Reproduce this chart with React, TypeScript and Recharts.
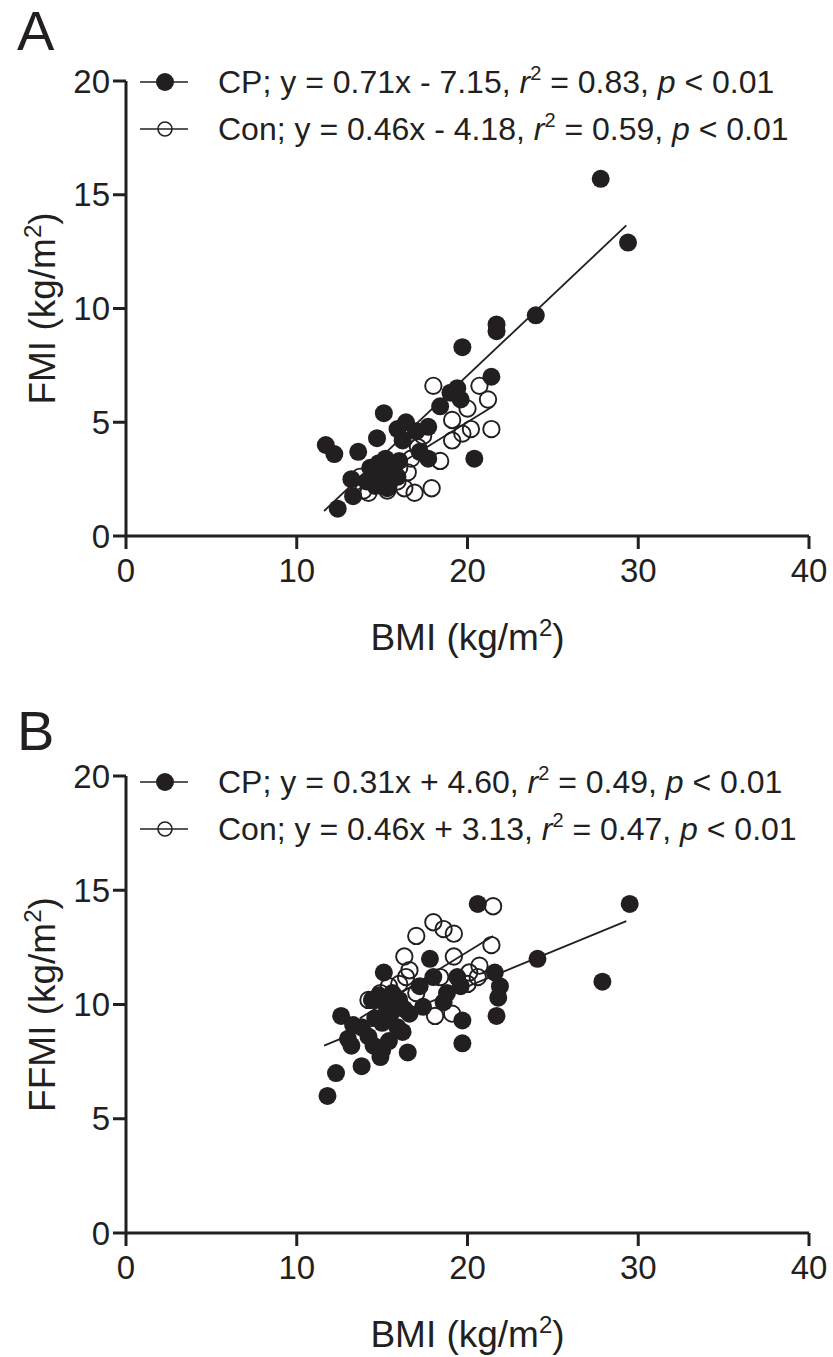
import React from "react";
import { Legend, ReferenceLine, Scatter, ScatterChart, XAxis, YAxis } from "recharts";

const ink = "#231f20";
const bodyFont = "'Liberation Sans', Arial, sans-serif";
const tickFont = "'Liberation Sans Narrow', 'Liberation Sans', Arial, sans-serif";

const bmiTicks = [0, 10, 20, 30, 40];
const indexTicks = [0, 5, 10, 15, 20];

// panel A: BMI vs FMI
const cpFmi: [number, number][] = [
  [11.7, 4.0], [12.2, 3.6], [12.4, 1.2], [13.2, 2.5], [13.3, 1.75], [13.6, 3.7], [14.7, 4.3], [15.1, 5.4],
  [14.3, 3.0], [14.5, 2.6], [14.8, 3.2], [15.0, 2.8], [15.2, 3.4], [15.5, 2.5], [15.7, 3.0], [16.0, 3.3],
  [14.6, 2.2], [15.3, 2.1], [15.9, 2.6], [14.1, 2.4], [15.9, 4.7], [16.2, 4.2], [16.4, 5.0], [17.2, 3.7],
  [17.7, 3.4], [17.7, 4.8], [17.0, 4.6], [18.4, 5.7], [19.0, 6.3], [19.4, 6.5], [19.6, 6.0], [19.7, 8.3],
  [20.4, 3.4], [21.4, 7.0], [21.7, 9.3], [21.7, 9.0], [24.0, 9.7], [27.8, 15.7], [29.4, 12.9]
];
const conFmi: [number, number][] = [
  [13.7, 2.6], [13.9, 2.0], [14.2, 1.9], [14.8, 2.4], [15.3, 2.0], [15.6, 2.9], [15.9, 2.4], [16.0, 3.0],
  [16.3, 2.1], [16.5, 2.8], [16.7, 3.4], [16.9, 1.9], [17.1, 3.9], [17.4, 4.4], [17.9, 2.1], [18.0, 6.6],
  [18.4, 3.3], [19.1, 4.2], [19.1, 5.1], [19.7, 4.5], [20.0, 5.6], [20.2, 4.7], [20.7, 6.6], [21.2, 6.0],
  [21.4, 4.7]
];
const cpFmiFit: [number, number][] = [[11.6, 1.1], [29.3, 13.65]];
const conFmiFit: [number, number][] = [[13.5, 2.0], [21.5, 5.7]];

// panel B: BMI vs FFMI
const cpFfmi: [number, number][] = [
  [11.8, 6.0], [12.3, 7.0], [13.8, 7.3], [12.6, 9.5], [13.3, 9.1], [13.2, 8.2], [13.0, 8.5], [13.8, 9.0],
  [14.2, 8.6], [14.5, 8.2], [14.9, 7.7], [15.0, 8.0], [15.4, 8.4], [14.4, 10.2], [14.8, 10.4], [15.2, 10.0],
  [15.6, 10.5], [16.0, 10.2], [16.3, 9.8], [14.6, 9.4], [15.0, 9.2], [15.5, 9.6], [15.9, 9.0], [16.2, 8.8],
  [16.6, 9.6], [15.1, 11.4], [16.5, 7.9], [17.2, 10.8], [17.4, 9.9], [17.8, 12.0], [18.0, 11.2], [18.6, 10.1],
  [18.8, 10.5], [19.4, 11.2], [19.6, 10.8], [19.7, 9.3], [19.7, 8.3], [20.6, 14.4], [21.6, 11.4], [21.7, 9.5],
  [21.8, 10.3], [21.9, 10.8], [24.1, 12.0], [27.9, 11.0], [29.5, 14.4]
];
const conFfmi: [number, number][] = [
  [14.2, 10.2], [14.9, 10.5], [15.0, 9.8], [15.4, 10.8], [15.8, 10.3], [16.0, 10.9], [16.3, 12.1], [16.4, 11.2],
  [16.6, 11.5], [17.0, 13.0], [17.0, 10.5], [18.0, 13.6], [18.1, 9.5], [18.4, 11.2], [18.6, 13.3], [19.1, 9.6],
  [19.2, 13.1], [19.2, 12.1], [20.0, 10.9], [20.1, 11.4], [20.6, 11.2], [20.7, 11.7], [21.4, 12.6], [21.5, 14.3]
];
const cpFfmiFit: [number, number][] = [[11.6, 8.2], [29.3, 13.65]];
const conFfmiFit: [number, number][] = [[13.7, 9.4], [21.5, 13.0]];

// legend rows: [group, equation, r2]
const fmiLegend = [
  ["CP", "y = 0.71x - 7.15", "0.83"],
  ["Con", "y = 0.46x - 4.18", "0.59"]
];
const ffmiLegend = [
  ["CP", "y = 0.31x + 4.60", "0.49"],
  ["Con", "y = 0.46x + 3.13", "0.47"]
];

const toPoints = (rows: [number, number][]) => rows.map(([x, y]) => ({ x, y }));

function FilledDot(props: any) {
  if (props.cx == null || props.cy == null) return null;
  return <circle cx={props.cx} cy={props.cy} r={9} fill={ink} />;
}

function OpenDot(props: any) {
  if (props.cx == null || props.cy == null) return null;
  return <circle cx={props.cx} cy={props.cy} r={8.2} fill="none" stroke={ink} strokeWidth={1.9} />;
}

function LegendBox({ rows }: { rows: string[][] }) {
  return (
    <svg width={690} height={100} style={{ overflow: "visible" }}>
      {rows.map((row, i) => {
        const cy = 22 + i * 47;
        return (
          <g key={row[0]}>
            <line x1={0} x2={48} y1={cy} y2={cy} stroke={ink} strokeWidth={1.6} />
            {i === 0 ? (
              <circle cx={25} cy={cy} r={9} fill={ink} />
            ) : (
              <circle cx={25} cy={cy} r={7} fill="none" stroke={ink} strokeWidth={1.6} />
            )}
            <text x={78} y={cy + 11} fontSize={32} fill={ink} fontFamily={bodyFont}>
              <tspan>{`${row[0]}; ${row[1]}, `}</tspan>
              <tspan fontStyle="italic">r</tspan>
              <tspan fontSize={20} dy={-13}>2</tspan>
              <tspan dy={13}>{` = ${row[2]}, `}</tspan>
              <tspan fontStyle="italic">p</tspan>
              <tspan>{" < 0.01"}</tspan>
            </text>
          </g>
        );
      })}
    </svg>
  );
}

function XTitle({ viewBox }: any) {
  if (!viewBox) return null;
  return (
    <text x={viewBox.x + viewBox.width / 2} y={viewBox.y + 114} textAnchor="middle" fontSize={37} fill={ink} fontFamily={bodyFont}>
      <tspan>BMI (kg/m</tspan>
      <tspan fontSize={24} dy={-14}>2</tspan>
      <tspan dy={14}>)</tspan>
    </text>
  );
}

function YTitle({ viewBox, text }: any) {
  if (!viewBox) return null;
  const x = viewBox.x + 55;
  const y = viewBox.y + viewBox.height / 2;
  return (
    <text x={x} y={y} transform={`rotate(-90 ${x} ${y})`} textAnchor="middle" fontSize={37} fill={ink} fontFamily={bodyFont}>
      <tspan>{`${text} (kg/m`}</tspan>
      <tspan fontSize={24} dy={-14}>2</tspan>
      <tspan dy={14}>)</tspan>
    </text>
  );
}

function Panel({
  top,
  height,
  marginTop,
  axisHeight,
  letter,
  letterY,
  legendTop,
  yTitle,
  cp,
  con,
  cpFit,
  conFit,
  legendRows
}: {
  top: number;
  height: number;
  marginTop: number;
  axisHeight: number;
  letter: string;
  letterY: number;
  legendTop: number;
  yTitle: string;
  cp: [number, number][];
  con: [number, number][];
  cpFit: [number, number][];
  conFit: [number, number][];
  legendRows: string[][];
}) {
  const tickStyle = { fill: ink, fontSize: 33, fontFamily: tickFont };
  const axisStroke = { stroke: ink, strokeWidth: 3 };

  return (
    <div style={{ position: "absolute", left: 0, top, width: 833, height }}>
      <svg width={80} height={70} style={{ position: "absolute", left: 0, top: 0 }}>
        <text x={17} y={letterY} fontSize={56} fill={ink} fontFamily={bodyFont}>
          {letter}
        </text>
      </svg>
      <ScatterChart width={833} height={height} margin={{ top: marginTop, right: 24, bottom: 0, left: 0 }}>
        <XAxis
          axisLine={axisStroke}
          dataKey="x"
          domain={[0, 40]}
          height={axisHeight}
          label={{ content: (p: any) => <XTitle viewBox={p.viewBox} /> }}
          tick={tickStyle}
          tickLine={axisStroke}
          tickMargin={10}
          tickSize={13}
          ticks={bmiTicks}
          type="number"
        />
        <YAxis
          axisLine={axisStroke}
          dataKey="y"
          domain={[0, 20]}
          label={{ content: (p: any) => <YTitle viewBox={p.viewBox} text={yTitle} /> }}
          tick={tickStyle}
          tickLine={axisStroke}
          tickMargin={3}
          tickSize={13}
          ticks={indexTicks}
          type="number"
          width={126}
        />
        <Legend
          align="center"
          content={() => <LegendBox rows={legendRows} />}
          layout="horizontal"
          verticalAlign="middle"
          wrapperStyle={{ position: "absolute", left: 140, top: legendTop, width: 690, height: 100 }}
        />
        <Scatter data={toPoints(con)} isAnimationActive={false} name="Con" shape={OpenDot} />
        <Scatter data={toPoints(cp)} isAnimationActive={false} name="CP" shape={FilledDot} />
        <ReferenceLine segment={toPoints(cpFit)} stroke={ink} strokeWidth={1.8} />
        <ReferenceLine segment={toPoints(conFit)} stroke={ink} strokeWidth={1.8} />
      </ScatterChart>
    </div>
  );
}

export default function App() {
  return (
    <div style={{ position: "absolute", left: 0, top: 0, width: 833, height: 1357, background: "#fff", fontFamily: bodyFont }}>
      <Panel
        axisHeight={144}
        con={conFmi}
        conFit={conFmiFit}
        cp={cpFmi}
        cpFit={cpFmiFit}
        height={680}
        legendRows={fmiLegend}
        legendTop={60}
        letter="A"
        letterY={50}
        marginTop={81}
        top={0}
        yTitle="FMI"
      />
      <Panel
        axisHeight={124}
        con={conFfmi}
        conFit={conFfmiFit}
        cp={cpFfmi}
        cpFit={cpFfmiFit}
        height={661}
        legendRows={ffmiLegend}
        legendTop={64}
        letter="B"
        letterY={54}
        marginTop={80}
        top={696}
        yTitle="FFMI"
      />
    </div>
  );
}
